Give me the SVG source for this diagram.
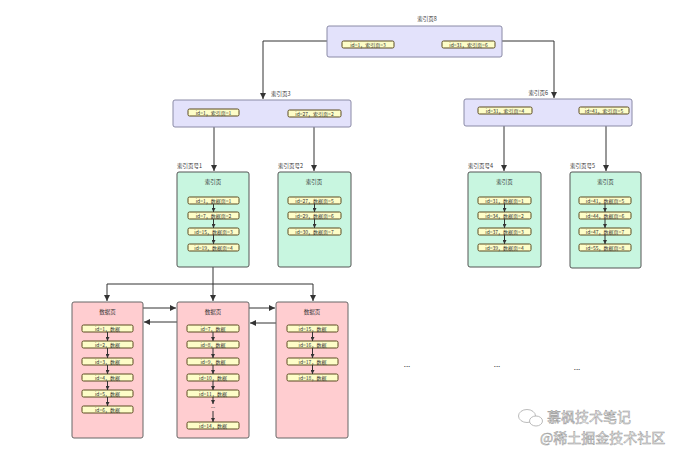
<svg xmlns="http://www.w3.org/2000/svg" width="684" height="460" viewBox="0 0 684 460">
<defs>
<style>
text{font-family:"Noto Sans CJK SC","Noto Sans",sans-serif;fill:#333;}
.lbl{font-size:5.5px;}
.et{font-size:5px;text-anchor:middle;}
.ttl{font-size:5.5px;text-anchor:middle;}
.dots{font-size:8px;text-anchor:middle;}
.idx{fill:#e3e2fb;stroke:#8a8aa6;stroke-width:1;}
.grn{fill:#c8f6e0;stroke:#555;stroke-width:1;}
.pnk{fill:#ffcdd0;stroke:#666;stroke-width:1;}
.ent{fill:#fdfdc8;stroke:#5a4a20;stroke-width:1;}
.con{fill:none;stroke:#333;stroke-width:1;marker-end:url(#ah);}
.in{fill:none;stroke:#333;stroke-width:1;marker-end:url(#sm);}
.wm{font-size:14px;fill:#f2f2f2;stroke:#999;stroke-width:0.5;}
</style>
<marker id="ah" markerUnits="userSpaceOnUse" markerWidth="6" markerHeight="6" refX="6" refY="3" orient="auto"><path d="M0,0 L6,3 L0,6 z" fill="#333"/></marker>
<marker id="sm" markerUnits="userSpaceOnUse" markerWidth="4" markerHeight="4" refX="4" refY="2" orient="auto"><path d="M0,0 L4,2 L0,4 z" fill="#333"/></marker>
</defs>
<rect width="684" height="460" fill="#fff"/>

<g id="connectors">
<path class="con" d="M327,41 H263 V99"/>
<path class="con" d="M502,41 H554 V98"/>
<path class="con" d="M214,116 V171"/>
<path class="con" d="M314,117 V171"/>
<path class="con" d="M504,114 V171"/>
<path class="con" d="M606,114 V171"/>
<path fill="none" stroke="#333" d="M213,267 V284"/>
<path class="con" d="M107,284 H313 V301"/>
<path class="con" d="M107,284 V301"/>
<path class="con" d="M213,284 V301"/>
<path class="con" d="M143,308 H176"/>
<path class="con" d="M177,322 H144"/>
<path class="con" d="M249,308 H275"/>
<path class="con" d="M276,323 H250"/>
</g>

<g id="root">
<text class="lbl" x="427" y="21" text-anchor="middle">索引页8</text>
<rect class="idx" x="327" y="26" width="175" height="31" rx="2"/>
<rect class="ent" x="342" y="41" width="52" height="7" rx="1.5"/>
<text class="et" x="368" y="46.5">id=1，索引页=3</text>
<rect class="ent" x="442" y="41" width="53" height="7" rx="1.5"/>
<text class="et" x="468.5" y="46.5">id=31，索引页=6</text>
</g>

<g id="idx3">
<text class="lbl" x="271" y="96">索引页3</text>
<rect class="idx" x="173" y="100" width="178" height="27" rx="2"/>
<rect class="ent" x="188" y="109" width="51" height="7" rx="1.5"/>
<text class="et" x="213.5" y="114.5">id=1，索引页=1</text>
<rect class="ent" x="288" y="110" width="53" height="7" rx="1.5"/>
<text class="et" x="314.5" y="115.5">id=27，索引页=2</text>
</g>

<g id="idx6">
<text class="lbl" x="548" y="95" text-anchor="end">索引页6</text>
<rect class="idx" x="464" y="99" width="168" height="27" rx="2"/>
<rect class="ent" x="478" y="107" width="54" height="7" rx="1.5"/>
<text class="et" x="505" y="112.5">id=31，索引页=4</text>
<rect class="ent" x="579" y="107" width="50" height="7" rx="1.5"/>
<text class="et" x="604" y="112.5">id=41，索引页=5</text>
</g>

<g id="leaf1">
<text class="lbl" x="177" y="168">索引页号1</text>
<rect class="grn" x="177" y="172" width="72" height="95" rx="2"/>
<text class="ttl" x="213" y="184">索引页</text>
<rect class="ent" x="188" y="197" width="51" height="7" rx="1.5"/><text class="et" x="213.5" y="202.5">id=1，数据页=1</text>
<rect class="ent" x="188" y="212" width="51" height="7" rx="1.5"/><text class="et" x="213.5" y="217.5">id=7，数据页=2</text>
<rect class="ent" x="188" y="228" width="51" height="7" rx="1.5"/><text class="et" x="213.5" y="233.5">id=15，数据页=3</text>
<rect class="ent" x="188" y="244" width="51" height="7" rx="1.5"/><text class="et" x="213.5" y="249.5">id=19，数据页=4</text>
<path class="in" d="M213.5,204 V212"/><path class="in" d="M213.5,219 V228"/><path class="in" d="M213.5,235 V244"/>
</g>

<g id="leaf2">
<text class="lbl" x="278" y="168">索引页号2</text>
<rect class="grn" x="278" y="172" width="73" height="95" rx="2"/>
<text class="ttl" x="314" y="184">索引页</text>
<rect class="ent" x="288" y="197" width="53" height="7" rx="1.5"/><text class="et" x="314.5" y="202.5">id=27，数据页=5</text>
<rect class="ent" x="288" y="212" width="53" height="7" rx="1.5"/><text class="et" x="314.5" y="217.5">id=29，数据页=6</text>
<rect class="ent" x="288" y="228" width="53" height="7" rx="1.5"/><text class="et" x="314.5" y="233.5">id=30，数据页=7</text>
<path class="in" d="M314.5,204 V212"/><path class="in" d="M314.5,219 V228"/>
</g>

<g id="leaf4">
<text class="lbl" x="468" y="168">索引页号4</text>
<rect class="grn" x="468" y="172" width="73" height="95" rx="2"/>
<text class="ttl" x="504.5" y="184">索引页</text>
<rect class="ent" x="478" y="197" width="53" height="7" rx="1.5"/><text class="et" x="504.5" y="202.5">id=31，数据页=1</text>
<rect class="ent" x="478" y="212" width="53" height="7" rx="1.5"/><text class="et" x="504.5" y="217.5">id=34，数据页=2</text>
<rect class="ent" x="478" y="228" width="53" height="7" rx="1.5"/><text class="et" x="504.5" y="233.5">id=37，数据页=3</text>
<rect class="ent" x="478" y="244" width="53" height="7" rx="1.5"/><text class="et" x="504.5" y="249.5">id=39，数据页=4</text>
<path class="in" d="M504.5,204 V212"/><path class="in" d="M504.5,219 V228"/><path class="in" d="M504.5,235 V244"/>
</g>

<g id="leaf5">
<text class="lbl" x="570" y="168">索引页号5</text>
<rect class="grn" x="570" y="172" width="71" height="96" rx="2"/>
<text class="ttl" x="605.5" y="184">索引页</text>
<rect class="ent" x="579" y="197" width="52" height="7" rx="1.5"/><text class="et" x="605" y="202.5">id=41，数据页=5</text>
<rect class="ent" x="579" y="212" width="52" height="7" rx="1.5"/><text class="et" x="605" y="217.5">id=44，数据页=6</text>
<rect class="ent" x="579" y="228" width="52" height="7" rx="1.5"/><text class="et" x="605" y="233.5">id=47，数据页=7</text>
<rect class="ent" x="579" y="244" width="52" height="7" rx="1.5"/><text class="et" x="605" y="249.5">id=55，数据页=8</text>
<path class="in" d="M605,204 V212"/><path class="in" d="M605,219 V228"/><path class="in" d="M605,235 V244"/>
</g>

<g id="data1">
<rect class="pnk" x="72" y="302" width="71" height="136" rx="2"/>
<text class="ttl" x="107.5" y="314">数据页</text>
<rect class="ent" x="82" y="325" width="51" height="7" rx="1.5"/><text class="et" x="107.5" y="330.5">id=1，数据</text>
<rect class="ent" x="82" y="341" width="51" height="7" rx="1.5"/><text class="et" x="107.5" y="346.5">id=2，数据</text>
<rect class="ent" x="82" y="358" width="51" height="7" rx="1.5"/><text class="et" x="107.5" y="363.5">id=3，数据</text>
<rect class="ent" x="82" y="374" width="51" height="7" rx="1.5"/><text class="et" x="107.5" y="379.5">id=4，数据</text>
<rect class="ent" x="82" y="390" width="51" height="7" rx="1.5"/><text class="et" x="107.5" y="395.5">id=5，数据</text>
<rect class="ent" x="82" y="406" width="51" height="7" rx="1.5"/><text class="et" x="107.5" y="411.5">id=6，数据</text>
<path class="in" d="M107.5,332 V341"/><path class="in" d="M107.5,348 V358"/><path class="in" d="M107.5,365 V374"/><path class="in" d="M107.5,381 V390"/><path class="in" d="M107.5,397 V406"/>
</g>

<g id="data2">
<rect class="pnk" x="177" y="302" width="72" height="136" rx="2"/>
<text class="ttl" x="213" y="314">数据页</text>
<rect class="ent" x="187" y="325" width="52" height="7" rx="1.5"/><text class="et" x="213" y="330.5">id=7，数据</text>
<rect class="ent" x="187" y="341" width="52" height="7" rx="1.5"/><text class="et" x="213" y="346.5">id=8，数据</text>
<rect class="ent" x="187" y="358" width="52" height="7" rx="1.5"/><text class="et" x="213" y="363.5">id=9，数据</text>
<rect class="ent" x="187" y="374" width="52" height="7" rx="1.5"/><text class="et" x="213" y="379.5">id=10，数据</text>
<rect class="ent" x="187" y="390" width="52" height="7" rx="1.5"/><text class="et" x="213" y="395.5">id=11，数据</text>
<text class="et" x="213" y="408">...</text>
<rect class="ent" x="187" y="422" width="52" height="7" rx="1.5"/><text class="et" x="213" y="427.5">id=14，数据</text>
<path class="in" d="M213,397 V404"/><path class="in" d="M213,332 V341"/><path class="in" d="M213,348 V358"/><path class="in" d="M213,365 V374"/><path class="in" d="M213,381 V390"/><path class="in" d="M213,411 V422"/>
</g>

<g id="data3">
<rect class="pnk" x="276" y="302" width="72" height="136" rx="2"/>
<text class="ttl" x="312" y="314">数据页</text>
<rect class="ent" x="287" y="325" width="51" height="7" rx="1.5"/><text class="et" x="312.5" y="330.5">id=15，数据</text>
<rect class="ent" x="287" y="341" width="51" height="7" rx="1.5"/><text class="et" x="312.5" y="346.5">id=16，数据</text>
<rect class="ent" x="287" y="358" width="51" height="7" rx="1.5"/><text class="et" x="312.5" y="363.5">id=17，数据</text>
<rect class="ent" x="287" y="374" width="51" height="7" rx="1.5"/><text class="et" x="312.5" y="379.5">id=18，数据</text>
<path class="in" d="M312.5,332 V341"/><path class="in" d="M312.5,348 V358"/><path class="in" d="M312.5,365 V374"/>
</g>

<g id="ellipses">
<text class="dots" x="407" y="367">...</text>
<text class="dots" x="497" y="367">...</text>
<text class="dots" x="577" y="370">...</text>
</g>

<g id="watermark">
<ellipse cx="527" cy="416" rx="8.5" ry="6.5" fill="none" stroke="#aaa" stroke-width="0.8"/>
<ellipse cx="536" cy="421" rx="6.5" ry="5" fill="#fff" stroke="#aaa" stroke-width="0.8"/>
<text class="wm" x="547" y="422">慕枫技术笔记</text>
<text class="wm" x="540" y="443">@稀土掘金技术社区</text>
</g>
</svg>
